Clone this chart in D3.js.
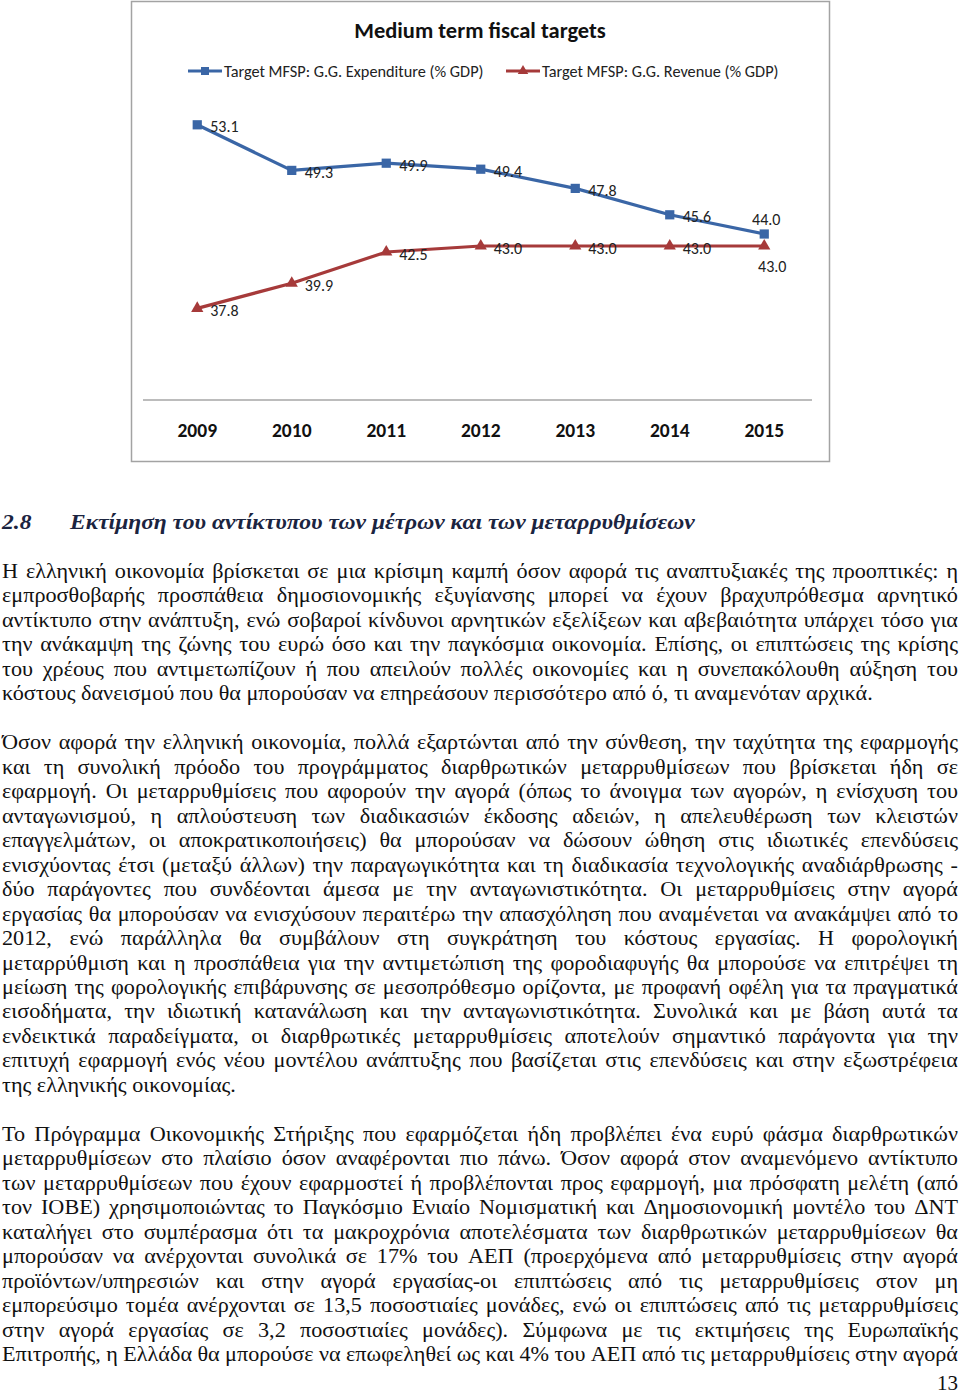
<!DOCTYPE html>
<html>
<head>
<meta charset="utf-8">
<script src="https://cdn.jsdelivr.net/npm/d3@7"></script>
<style>
  html, body { margin: 0; padding: 0; background: #fff; }
  svg { display: block; }
</style>
</head>
<body>
<svg id="page" width="960" height="1394"></svg>
<script>
// ---------------- DATA ----------------
const chartTitle = "Medium term fiscal targets";
const years = ["2009", "2010", "2011", "2012", "2013", "2014", "2015"];
const expenditure = [53.1, 49.3, 49.9, 49.4, 47.8, 45.6, 44.0];
const revenue = [37.8, 39.9, 42.5, 43.0, 43.0, 43.0, 43.0];
const seriesNames = ["Target MFSP: G.G. Expenditure (% GDP)", "Target MFSP: G.G. Revenue (% GDP)"];

const headingNumber = "2.8";
const headingText = "Εκτίμηση του αντίκτυπου των μέτρων και των μεταρρυθμίσεων";

const paragraph1 = [
  "Η ελληνική οικονομία βρίσκεται σε μια κρίσιμη καμπή όσον αφορά τις αναπτυξιακές της προοπτικές: η",
  "εμπροσθοβαρής προσπάθεια δημοσιονομικής εξυγίανσης μπορεί να έχουν βραχυπρόθεσμα αρνητικό",
  "αντίκτυπο στην ανάπτυξη, ενώ σοβαροί κίνδυνοι αρνητικών εξελίξεων και αβεβαιότητα υπάρχει τόσο για",
  "την ανάκαμψη της ζώνης του ευρώ όσο και την παγκόσμια οικονομία. Επίσης, οι επιπτώσεις της κρίσης",
  "του χρέους που αντιμετωπίζουν ή που απειλούν πολλές οικονομίες και η συνεπακόλουθη αύξηση του",
  "κόστους δανεισμού που θα μπορούσαν να επηρεάσουν περισσότερο από ό, τι αναμενόταν αρχικά."
];
const paragraph2 = [
  "Όσον αφορά την ελληνική οικονομία, πολλά εξαρτώνται από την σύνθεση, την ταχύτητα της εφαρμογής",
  "και τη συνολική πρόοδο του προγράμματος διαρθρωτικών μεταρρυθμίσεων που βρίσκεται ήδη σε",
  "εφαρμογή. Οι μεταρρυθμίσεις που αφορούν την αγορά (όπως το άνοιγμα των αγορών, η ενίσχυση του",
  "ανταγωνισμού, η απλούστευση των διαδικασιών έκδοσης αδειών, η απελευθέρωση των κλειστών",
  "επαγγελμάτων, οι αποκρατικοποιήσεις) θα μπορούσαν να δώσουν ώθηση  στις ιδιωτικές επενδύσεις",
  "ενισχύοντας έτσι (μεταξύ άλλων) την παραγωγικότητα και τη διαδικασία τεχνολογικής αναδιάρθρωσης -",
  "δύο παράγοντες που συνδέονται άμεσα με την ανταγωνιστικότητα. Οι μεταρρυθμίσεις στην αγορά",
  "εργασίας θα μπορούσαν να ενισχύσουν περαιτέρω την απασχόληση που αναμένεται να ανακάμψει από το",
  "2012, ενώ παράλληλα θα συμβάλουν στη συγκράτηση του κόστους εργασίας. Η φορολογική",
  "μεταρρύθμιση και η προσπάθεια για την αντιμετώπιση της φοροδιαφυγής θα μπορούσε να επιτρέψει τη",
  "μείωση της φορολογικής επιβάρυνσης σε μεσοπρόθεσμο ορίζοντα, με προφανή οφέλη για τα πραγματικά",
  "εισοδήματα, την ιδιωτική κατανάλωση και την ανταγωνιστικότητα. Συνολικά και με βάση αυτά τα",
  "ενδεικτικά παραδείγματα, οι διαρθρωτικές μεταρρυθμίσεις αποτελούν σημαντικό παράγοντα για την",
  "επιτυχή εφαρμογή ενός νέου μοντέλου ανάπτυξης που βασίζεται στις επενδύσεις και στην εξωστρέφεια",
  "της ελληνικής οικονομίας."
];
const paragraph3 = [
  "Το Πρόγραμμα Οικονομικής Στήριξης που εφαρμόζεται ήδη προβλέπει ένα ευρύ φάσμα διαρθρωτικών",
  "μεταρρυθμίσεων στο πλαίσιο όσον αναφέρονται πιο πάνω. Όσον αφορά στον αναμενόμενο αντίκτυπο",
  "των μεταρρυθμίσεων που έχουν εφαρμοστεί ή προβλέπονται προς εφαρμογή, μια πρόσφατη μελέτη (από",
  "τον ΙΟΒΕ) χρησιμοποιώντας το Παγκόσμιο Ενιαίο Νομισματική και Δημοσιονομική μοντέλο του ΔΝΤ",
  "καταλήγει στο συμπέρασμα ότι τα μακροχρόνια αποτελέσματα των διαρθρωτικών μεταρρυθμίσεων θα",
  "μπορούσαν να ανέρχονται συνολικά σε 17% του ΑΕΠ (προερχόμενα από μεταρρυθμίσεις στην αγορά",
  "προϊόντων/υπηρεσιών και στην αγορά εργασίας-οι επιπτώσεις από τις μεταρρυθμίσεις στον μη",
  "εμπορεύσιμο τομέα ανέρχονται σε 13,5 ποσοστιαίες μονάδες, ενώ οι επιπτώσεις από τις μεταρρυθμίσεις",
  "στην αγορά εργασίας σε 3,2 ποσοστιαίες μονάδες). Σύμφωνα με τις εκτιμήσεις της Ευρωπαϊκής",
  "Επιτροπής, η Ελλάδα θα μπορούσε να επωφεληθεί ως και 4% του ΑΕΠ από τις μεταρρυθμίσεις στην αγορά"
];
const pageNumber = "13";

// ---------------- CHART ----------------
const svg = d3.select("#page");
const chartFont = "Carlito, Lato, 'Liberation Sans', sans-serif";
const blue = "#3A66A6", red = "#A63A3A";

svg.append("rect").attr("x", 131.5).attr("y", 1.5).attr("width", 698).attr("height", 460)
  .attr("fill", "#fff").attr("stroke", "#a3a3a3").attr("stroke-width", 1.5);

svg.append("text").attr("x", 480).attr("y", 38).attr("text-anchor", "middle")
  .attr("font-family", chartFont).attr("font-weight", "bold").attr("font-size", 22.5)
  .attr("fill", "#111").text(chartTitle);

const x = d3.scaleBand().domain(years).range([150, 811.5]);
const xc = d => x(d) + x.bandwidth() / 2;
const y = d3.scaleLinear().domain([30, 55]).range([402, 102]);

// axis
const xAxis = svg.append("g").attr("transform", "translate(0,400)")
  .call(d3.axisBottom(x).tickSize(0).tickPadding(23));
xAxis.select(".domain").attr("d", "M143,0H812").attr("stroke", "#a6a6a6").attr("stroke-width", 1.5);
xAxis.selectAll("text").attr("font-family", chartFont).attr("font-weight", "bold")
  .attr("font-size", 19.5).attr("fill", "#111");

const series = [
  { name: seriesNames[0], values: expenditure, color: blue, symbol: d3.symbolSquare, size: 85 },
  { name: seriesNames[1], values: revenue, color: red, symbol: d3.symbolTriangle, size: 65 }
];

const line = d3.line().x((d, i) => xc(years[i])).y(d => y(d));

series.forEach((s, si) => {
  const g = svg.append("g");
  g.append("path").attr("d", line(s.values)).attr("fill", "none")
    .attr("stroke", s.color).attr("stroke-width", 3.2);
  g.selectAll("path.m").data(s.values).enter().append("path").attr("class", "m")
    .attr("transform", (d, i) => `translate(${xc(years[i])},${y(d)})`)
    .attr("d", d3.symbol().type(s.symbol).size(s.size)).attr("fill", s.color);
  g.selectAll("text").data(s.values).enter().append("text")
    .attr("x", (d, i) => {
      const last = i === s.values.length - 1;
      if (last) return xc(years[i]) + (si === 0 ? 2 : 8);
      return xc(years[i]) + 13;
    })
    .attr("y", (d, i) => {
      const last = i === s.values.length - 1;
      if (last) return y(d) + (si === 0 ? -15 : 20) + 5.5;
      return y(d) + 2 + 5.5;
    })
    .attr("text-anchor", (d, i) => i === s.values.length - 1 ? "middle" : "start")
    .attr("font-family", chartFont).attr("font-size", 16).attr("fill", "#222")
    .text(d => d.toFixed(1));
});

// legend
const legendItems = [
  { x0: 188, color: blue, symbol: d3.symbolSquare, size: 64, label: seriesNames[0] },
  { x0: 506, color: red, symbol: d3.symbolTriangle, size: 48, label: seriesNames[1] }
];
legendItems.forEach(l => {
  const g = svg.append("g").attr("transform", `translate(${l.x0},71)`);
  g.append("line").attr("x1", 0).attr("x2", 34).attr("stroke", l.color).attr("stroke-width", 3);
  g.append("path").attr("transform", "translate(17,0)")
    .attr("d", d3.symbol().type(l.symbol).size(l.size)).attr("fill", l.color);
  g.append("text").attr("x", 36).attr("y", 5.5).attr("font-family", chartFont)
    .attr("font-size", 16.3).attr("fill", "#222").text(l.label);
});

// ---------------- TEXT ----------------
const bodyFont = "'Liberation Serif', 'DejaVu Serif', serif";
const fs = 21;
const textG = svg.append("g");

function measure(str, attrs) {
  const t = textG.append("text").attr("font-family", bodyFont).attr("font-size", fs).text(str);
  if (attrs) Object.entries(attrs).forEach(([k, v]) => t.attr(k, v));
  const w = t.node().getComputedTextLength();
  t.remove();
  return w;
}

const sx = 871 / measure(paragraph1[paragraph1.length - 1]);
const body = textG.append("g").attr("transform", `scale(${sx},1)`);
const left = 2 / sx, right = 958 / sx;

function drawLine(str, cy, justify) {
  const baseline = cy + 6;
  if (!justify) {
    body.append("text").attr("x", left).attr("y", baseline).attr("font-family", bodyFont)
      .attr("font-size", fs).attr("fill", "#111").text(str);
    return;
  }
  const words = str.split(/\s+/).filter(w => w.length);
  const widths = words.map(w => measure(w));
  const total = d3.sum(widths);
  const gap = (right - left - total) / (words.length - 1);
  let cx = left;
  const t = body.append("text").attr("y", baseline).attr("font-family", bodyFont)
    .attr("font-size", fs).attr("fill", "#111");
  words.forEach((w, i) => {
    t.append("tspan").attr("x", cx).text(w);
    cx += widths[i] + gap;
  });
}

const lineH = 24.47, top0 = 572;
const paras = [
  { lines: paragraph1, start: 0, lastJustified: false },
  { lines: paragraph2, start: 7, lastJustified: false },
  { lines: paragraph3, start: 23, lastJustified: true }
];
paras.forEach(p => {
  p.lines.forEach((ln, i) => {
    const isLast = i === p.lines.length - 1;
    drawLine(ln, top0 + (p.start + i) * lineH, !isLast || p.lastJustified);
  });
});

// heading
const hAttrs = { "font-weight": "bold", "font-style": "italic" };
const hw = measure(headingText, hAttrs);
const hsx = 625 / hw;
const hg = svg.append("g").attr("transform", `scale(${hsx},1)`);
hg.append("text").attr("x", 2 / hsx).attr("y", 529).attr("font-family", bodyFont)
  .attr("font-size", fs).attr("font-weight", "bold").attr("font-style", "italic")
  .attr("fill", "#1b2440").text(headingNumber);
hg.append("text").attr("x", 70 / hsx).attr("y", 529).attr("font-family", bodyFont)
  .attr("font-size", fs).attr("font-weight", "bold").attr("font-style", "italic")
  .attr("fill", "#1b2440").text(headingText);

// page number
svg.append("text").attr("x", 958).attr("y", 1390).attr("text-anchor", "end")
  .attr("font-family", bodyFont).attr("font-size", fs).attr("fill", "#111").text(pageNumber);
</script>
</body>
</html>
